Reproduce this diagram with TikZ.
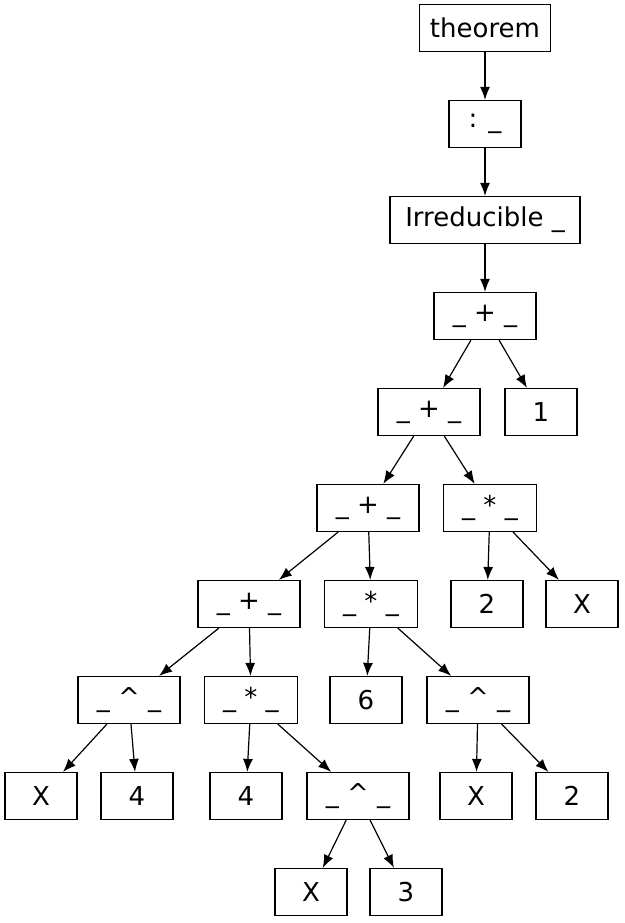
\documentclass[tikz,border=0pt]{standalone}
\usepackage{fontspec}
\setmainfont{DejaVu Sans}
\usetikzlibrary{arrows.meta}
\tikzset{
  term/.style={draw, rectangle, line width=1.2pt, minimum width=72pt, minimum height=47pt,
    inner xsep=10.5pt, inner ysep=0pt, font=\fontsize{26}{30}\selectfont},
  wideop/.style={term, minimum width=102pt},
  mulop/.style={term, minimum width=93pt},
  edge/.style={line width=1.2pt, -{Latex[length=13pt,width=10pt]}}
}
\begin{document}
\begin{tikzpicture}[x=1pt, y=-1pt]
\useasboundingbox (0,0) rectangle (624,923);

% top chain
\node[term] (thm)   at (485,28)  {theorem};
\node[term] (colon) at (485,124) {: \_};
\node[term, minimum width=190pt] (irr) at (485,220) {Irreducible \_};

% sums and products
\node[wideop] (plusA) at (485,316) {\_ + \_};
\node[wideop] (plusB) at (429,412) {\_ + \_};
\node[term]   (one)   at (541,412) {1};
\node[wideop] (plusC) at (368,508) {\_ + \_};
\node[mulop]  (mulA)  at (490,508) {\_ * \_};
\node[wideop] (plusD) at (249,604) {\_ + \_};
\node[mulop]  (mulB)  at (371,604) {\_ * \_};
\node[term]   (two)   at (487,604) {2};
\node[term]   (xA)    at (582,604) {X};
\node[wideop] (powA)  at (129,700) {\_ \^{} \_};
\node[mulop]  (mulC)  at (251,700) {\_ * \_};
\node[term]   (six)   at (366,700) {6};
\node[wideop] (powB)  at (478,700) {\_ \^{} \_};

% leaves
\node[term]   (xB)    at (41,796)  {X};
\node[term]   (fourA) at (137,796) {4};
\node[term]   (fourB) at (246,796) {4};
\node[wideop] (powC)  at (358,796) {\_ \^{} \_};
\node[term]   (xC)    at (476,796) {X};
\node[term]   (twoB)  at (572,796) {2};
\node[term]   (xD)    at (311,892) {X};
\node[term]   (three) at (406,892) {3};

\draw[edge] (thm) -- (colon);
\draw[edge] (colon) -- (irr);
\draw[edge] (irr) -- (plusA);
\draw[edge] (plusA) -- (plusB);
\draw[edge] (plusA) -- (one);
\draw[edge] (plusB) -- (plusC);
\draw[edge] (plusB) -- (mulA);
\draw[edge] (plusC) -- (plusD);
\draw[edge] (plusC) -- (mulB);
\draw[edge] (mulA) -- (two);
\draw[edge] (mulA) -- (xA);
\draw[edge] (plusD) -- (powA);
\draw[edge] (plusD) -- (mulC);
\draw[edge] (mulB) -- (six);
\draw[edge] (mulB) -- (powB);
\draw[edge] (powA) -- (xB);
\draw[edge] (powA) -- (fourA);
\draw[edge] (mulC) -- (fourB);
\draw[edge] (mulC) -- (powC);
\draw[edge] (powB) -- (xC);
\draw[edge] (powB) -- (twoB);
\draw[edge] (powC) -- (xD);
\draw[edge] (powC) -- (three);

\end{tikzpicture}
\end{document}
